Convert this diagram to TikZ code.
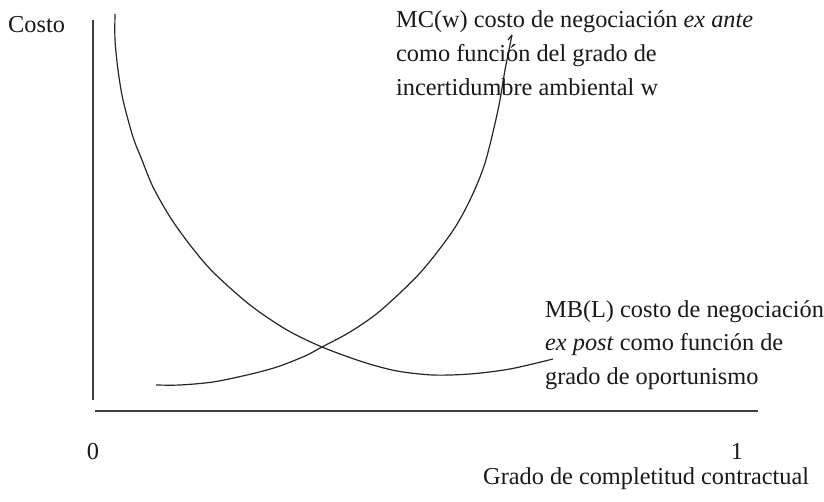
\documentclass[tikz,border=0pt]{standalone}
\usepackage{fontspec}
\setmainfont{Liberation Serif}
\begin{document}
\begin{tikzpicture}[x=1pt,y=-1pt,
  lbl/.style={anchor=base west,inner sep=0pt,font=\fontsize{24.3}{28}\selectfont,text=black!90},
  num/.style={anchor=base,inner sep=0pt,font=\fontsize{24.3}{28}\selectfont,text=black!90},
  axis/.style={line width=1.3pt,draw=black!75},
  curve/.style={line width=1.2pt,draw=black!85}]
\useasboundingbox[fill=white] (0,0) rectangle (824,502);
% axes
\coordinate (ytop) at (93,20);
\coordinate (ybot) at (93,400);
\coordinate (xl) at (95,411);
\coordinate (xr) at (758,411);
\draw[axis] (ytop) -- (ybot);
\draw[axis] (xl) -- (xr);
% falling curve (ex post)
\draw[curve] plot[smooth,tension=0.5] coordinates {(115,14) (115,40) (118,70) (123,100) (133,137) (142,160) (153,187) (170,217) (190,245) (213,272) (250,305) (287,330) (322,347) (363,362) (397,371) (433,375) (470,374) (510,369) (553,359)};
% rising curve (ex ante)
\draw[curve] plot[smooth,tension=0.5] coordinates {(156,385) (180,385) (213,382) (247,375) (277,367) (305,356) (322,347) (350,332) (380,311) (420,273) (452,232) (470,200) (485,163) (498,110) (505,70) (512,35)};
\draw[curve] (512,35) -- (508,40);
% labels
\node[lbl] (costo) at (8,33) {Costo};
\node[num] (zero) at (93,459) {0};
\node[num] (one) at (737,459) {1};
\node[lbl] (xlab) at (483,484) {Grado de completitud contractual};
\node[lbl] (mc1) at (396,28) {MC(w) costo de negociación \textit{ex ante}};
\node[lbl] (mc2) at (396,62) {como función del grado de};
\node[lbl] (mc3) at (396,96) {incertidumbre ambiental w};
\node[lbl] (mb1) at (545,318) {MB(L) costo de negociación};
\node[lbl] (mb2) at (545,351) {\textit{ex post} como función de};
\node[lbl] (mb3) at (545,384) {grado de oportunismo};
\end{tikzpicture}
\end{document}
